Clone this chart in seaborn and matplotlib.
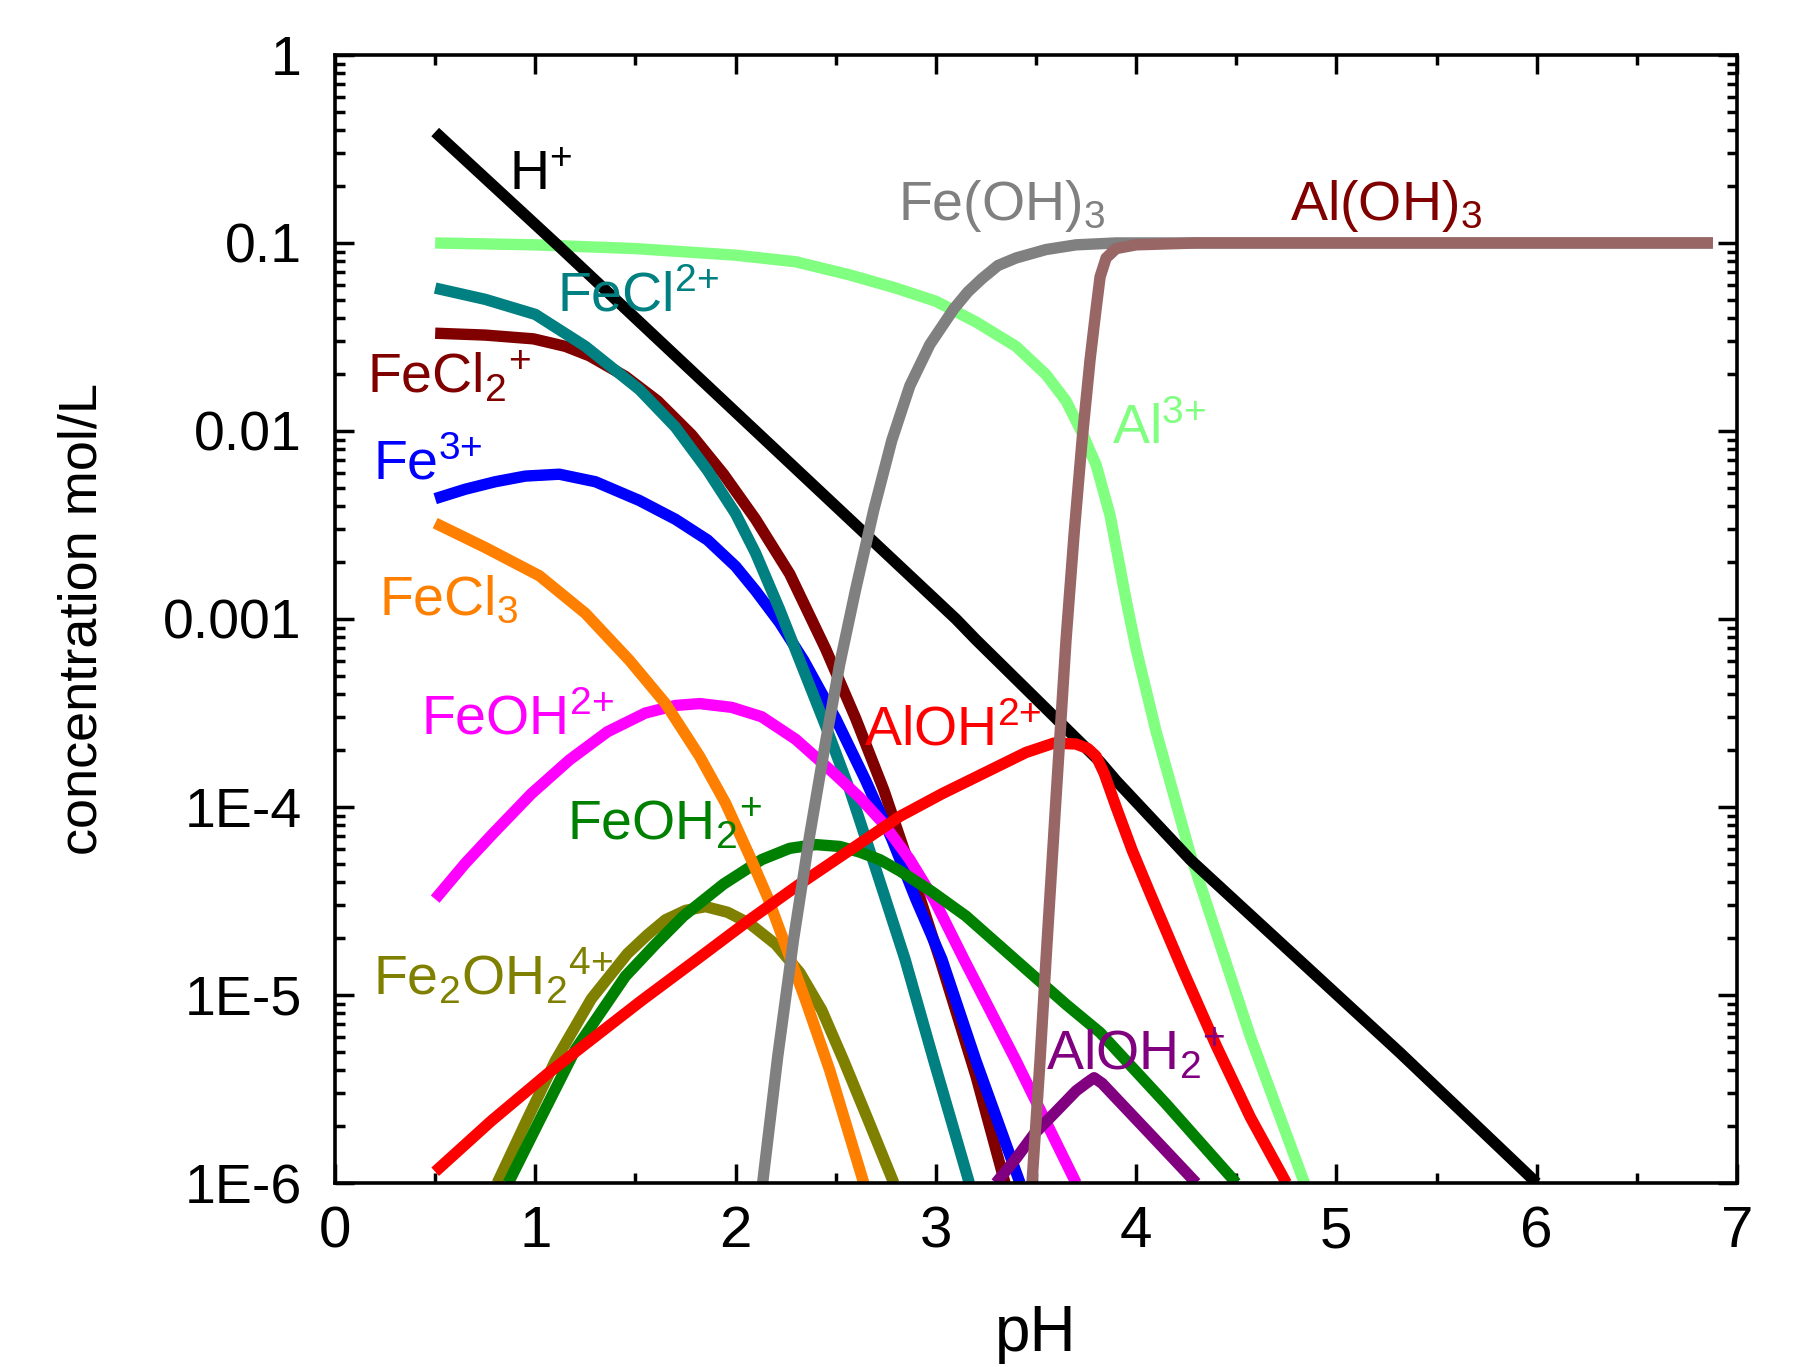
import matplotlib
matplotlib.use("Agg")
import matplotlib.pyplot as plt
import matplotlib.ticker as mticker
import numpy as np
import pandas as pd
import seaborn as sns

# ===== Data (pH, log10 concentration) =====
ph_h = [0.5, 1.12, 3.10, 3.20, 3.82, 3.90, 4.27, 5.32, 6.0]
log_h = [-0.41, -1.02, -3.0, -3.11, -3.76, -3.86, -4.28, -5.31, -6.0]

ph_al3 = [0.5, 1.0, 1.5, 2.0, 2.3, 2.57, 2.8, 3.0, 3.2, 3.4, 3.55, 3.65, 3.73, 3.80, 3.87,
          3.95, 4.0, 4.1, 4.27, 4.57, 4.84]
log_al3 = [-1.0, -1.01, -1.03, -1.065, -1.10, -1.17, -1.24, -1.31, -1.42, -1.55, -1.70, -1.84,
           -2.01, -2.18, -2.45, -2.90, -3.16, -3.60, -4.25, -5.22, -6.0]

ph_aloh3 = [3.48, 3.52, 3.55, 3.60, 3.65, 3.69, 3.73, 3.77, 3.80, 3.82, 3.85, 3.90, 4.0, 4.3, 6.88]
log_aloh3 = [-6.0, -5.35, -4.81, -3.95, -3.11, -2.55, -2.05, -1.62, -1.35, -1.18, -1.08, -1.03,
             -1.01, -1.0, -1.0]

ph_feoh3 = [2.135, 2.21, 2.29, 2.37, 2.45, 2.52, 2.60, 2.69, 2.78, 2.87, 2.97, 3.09, 3.16, 3.23,
            3.31, 3.40, 3.55, 3.70, 3.90, 6.88]
log_feoh3 = [-6.0, -5.33, -4.70, -4.15, -3.65, -3.24, -2.84, -2.42, -2.05, -1.76, -1.54, -1.35,
             -1.26, -1.19, -1.12, -1.08, -1.035, -1.01, -1.0, -1.0]

ph_fecl = [0.5, 0.75, 1.0, 1.25, 1.52, 1.70, 1.86, 2.0, 2.10, 2.22, 2.32, 2.45, 2.57, 2.70,
           2.846, 2.99, 3.167]
log_fecl = [-1.24, -1.30, -1.38, -1.55, -1.78, -1.98, -2.21, -2.44, -2.65, -2.95, -3.22, -3.57,
            -3.91, -4.33, -4.81, -5.35, -6.0]

ph_fecl2 = [0.5, 0.75, 0.99, 1.15, 1.27, 1.45, 1.61, 1.78, 1.94, 2.10, 2.27, 2.45, 2.60, 2.74,
            2.88, 3.02, 3.20, 3.345]
log_fecl2 = [-1.48, -1.49, -1.51, -1.55, -1.60, -1.71, -1.84, -2.02, -2.23, -2.47, -2.76, -3.16,
             -3.53, -3.91, -4.35, -4.81, -5.43, -6.0]

ph_fe3 = [0.5, 0.65, 0.8, 0.95, 1.12, 1.3, 1.52, 1.70, 1.86, 2.0, 2.10, 2.22, 2.34, 2.50, 2.65,
          2.78, 2.90, 3.03, 3.20, 3.42]
log_fe3 = [-2.36, -2.31, -2.27, -2.24, -2.23, -2.27, -2.37, -2.47, -2.58, -2.72, -2.85, -3.02,
           -3.22, -3.53, -3.86, -4.17, -4.49, -4.81, -5.35, -6.0]

ph_fecl3 = [0.5, 0.75, 1.02, 1.25, 1.47, 1.65, 1.82, 1.95, 2.07, 2.16, 2.24, 2.35, 2.47, 2.64]
log_fecl3 = [-2.49, -2.62, -2.77, -2.97, -3.22, -3.45, -3.73, -3.98, -4.26, -4.48, -4.71, -5.03,
             -5.40, -6.0]

ph_feoh = [0.5, 0.65, 0.79, 0.98, 1.17, 1.36, 1.55, 1.70, 1.82, 1.98, 2.13, 2.30, 2.49, 2.62,
           2.74, 2.87, 2.99, 3.14, 3.40, 3.70]
log_feoh = [-4.49, -4.30, -4.14, -3.93, -3.75, -3.60, -3.50, -3.46, -3.45, -3.47, -3.52, -3.64,
            -3.82, -3.95, -4.09, -4.28, -4.49, -4.81, -5.35, -6.0]

ph_fe2oh2 = [0.81, 0.96, 1.10, 1.28, 1.46, 1.56, 1.65, 1.75, 1.85, 1.96, 2.07, 2.20, 2.32, 2.43,
             2.54, 2.66, 2.79]
log_fe2oh2 = [-6.0, -5.66, -5.35, -5.02, -4.78, -4.68, -4.60, -4.55, -4.53, -4.56, -4.62, -4.73,
              -4.88, -5.08, -5.35, -5.66, -6.0]

ph_feoh2 = [0.865, 1.02, 1.20, 1.45, 1.60, 1.74, 1.94, 2.13, 2.27, 2.40, 2.52, 2.62, 2.72, 2.82,
            2.98, 3.15, 3.32, 3.49, 3.65, 3.82, 4.15, 4.50]
log_feoh2 = [-6.0, -5.67, -5.29, -4.90, -4.73, -4.58, -4.41, -4.28, -4.22, -4.20, -4.21, -4.24,
             -4.28, -4.34, -4.45, -4.58, -4.74, -4.90, -5.05, -5.20, -5.58, -6.0]

ph_aloh = [0.5, 0.78, 1.06, 1.24, 1.53, 1.82, 2.07, 2.32, 2.57, 2.82, 3.03, 3.24, 3.45, 3.59,
           3.70, 3.76, 3.80, 3.84, 3.90, 3.98, 4.07, 4.23, 4.40, 4.57, 4.75]
log_aloh = [-5.94, -5.67, -5.42, -5.27, -5.03, -4.80, -4.60, -4.41, -4.23, -4.05, -3.93, -3.82,
            -3.71, -3.66, -3.665, -3.69, -3.73, -3.82, -4.0, -4.23, -4.46, -4.86, -5.27, -5.65,
            -6.0]

ph_aloh2 = [3.30, 3.40, 3.49, 3.60, 3.70, 3.75, 3.79, 3.83, 4.07, 4.30]
log_aloh2 = [-6.0, -5.87, -5.74, -5.62, -5.51, -5.47, -5.44, -5.47, -5.74, -6.0]

# drawing order: first is at the bottom
series = [
    ("Al3+", ph_al3, log_al3, "#80FF80"),
    ("H+", ph_h, log_h, "black"),
    ("FeCl2+ (maroon)", ph_fecl2, log_fecl2, "#800000"),
    ("Fe3+", ph_fe3, log_fe3, "#0000FF"),
    ("FeCl2+", ph_fecl, log_fecl, "#008080"),
    ("FeOH2+", ph_feoh, log_feoh, "#FF00FF"),
    ("Fe2OH2 4+", ph_fe2oh2, log_fe2oh2, "#808000"),
    ("FeOH2 +", ph_feoh2, log_feoh2, "#008000"),
    ("FeCl3", ph_fecl3, log_fecl3, "#FF8000"),
    ("AlOH2+", ph_aloh, log_aloh, "#FF0000"),
    ("AlOH2 +", ph_aloh2, log_aloh2, "#800080"),
    ("Fe(OH)3", ph_feoh3, log_feoh3, "#808080"),
    ("Al(OH)3", ph_aloh3, log_aloh3, "#996666"),
]

# (text, pH, log10 conc, colour) of the curve labels
labels = [
    (r"$\mathregular{H^{{+}}}$", 0.87, -0.72, "black"),
    (r"$\mathregular{Fe(OH)_3}$", 2.81, -0.88, "#808080"),
    (r"$\mathregular{Al(OH)_3}$", 4.77, -0.88, "#800000"),
    (r"$\mathregular{FeCl^{2{+}}}$", 1.11, -1.365, "#008080"),
    (r"$\mathregular{FeCl_2{}^{{+}}}$", 0.16, -1.80, "#800000"),
    (r"$\mathregular{Al^{3{+}}}$", 3.88, -2.07, "#80FF80"),
    (r"$\mathregular{Fe^{3{+}}}$", 0.19, -2.26, "#0000FF"),
    (r"$\mathregular{FeCl_3}$", 0.22, -2.98, "#FF8000"),
    (r"$\mathregular{FeOH^{2{+}}}$", 0.43, -3.615, "#FF00FF"),
    (r"$\mathregular{AlOH^{2{+}}}$", 2.64, -3.675, "#FF0000"),
    (r"$\mathregular{FeOH_2{}^{{+}}}$", 1.16, -4.175, "#008000"),
    (r"$\mathregular{Fe_2OH_2{}^{4{+}}}$", 0.19, -5.0, "#808000"),
    (r"$\mathregular{AlOH_2{}^{{+}}}$", 3.55, -5.40, "#800080"),
]

yticks = [1, 0.1, 0.01, 0.001, 1e-4, 1e-5, 1e-6]
ytick_labels = ["1", "0.1", "0.01", "0.001", "1E-4", "1E-5", "1E-6"]

# ===== Long table for seaborn =====
frames = []
for name, ph, logc, _ in series:
    frames.append(pd.DataFrame({"species": name, "pH": ph, "conc": 10.0 ** np.array(logc)}))
df = pd.concat(frames, ignore_index=True)
palette = {name: color for name, _, _, color in series}
order = [name for name, _, _, _ in series]

# ===== Style =====
sns.set_style("ticks")
plt.rcParams["font.family"] = ["Liberation Sans", "DejaVu Sans"]
plt.rcParams["mathtext.fontset"] = "custom"
plt.rcParams["mathtext.rm"] = "Liberation Sans"
plt.rcParams["mathtext.it"] = "Liberation Sans:italic"
plt.rcParams["mathtext.bf"] = "Liberation Sans:bold"
for key in ["text.color", "axes.labelcolor", "xtick.color", "ytick.color", "axes.edgecolor"]:
    plt.rcParams[key] = "black"

fig = plt.figure(figsize=(18.12, 13.67), dpi=100)
ax = fig.add_axes([0.1849, 0.1346, 0.7737, 0.8252])

sns.lineplot(data=df, x="pH", y="conc", hue="species", hue_order=order,
             palette=palette, sort=False, estimator=None, linewidth=8.2,
             legend=False, ax=ax, solid_capstyle="butt", solid_joinstyle="round")

ax.set_yscale("log")
ax.set_xlim(0, 7)
ax.set_ylim(1e-6, 1)

ax.set_xticks(range(0, 8))
ax.xaxis.set_minor_locator(mticker.MultipleLocator(0.5))
ax.set_yticks(yticks)
ax.set_yticklabels(ytick_labels)
ax.yaxis.set_minor_locator(mticker.LogLocator(base=10, subs=np.arange(2, 10)))
ax.yaxis.set_minor_formatter(mticker.NullFormatter())

ax.tick_params(which="both", direction="in", top=True, right=True, width=2.5)
ax.tick_params(axis="x", which="major", pad=16, labelsize=42)
ax.tick_params(axis="y", which="major", pad=24, labelsize=40)
ax.tick_params(which="major", length=14)
ax.tick_params(which="minor", length=7)
for sp in ax.spines.values():
    sp.set_linewidth(2.6)
    sp.set_visible(True)

ax.set_xlabel("pH", fontsize=46, labelpad=32)
ax.set_ylabel("concentration mol/L", fontsize=39, labelpad=40)

for text, x, y, color in labels:
    ax.text(x, 10.0 ** y, text, color=color, fontsize=40, ha="left", va="baseline")

fig.savefig("out.png", dpi=100)
